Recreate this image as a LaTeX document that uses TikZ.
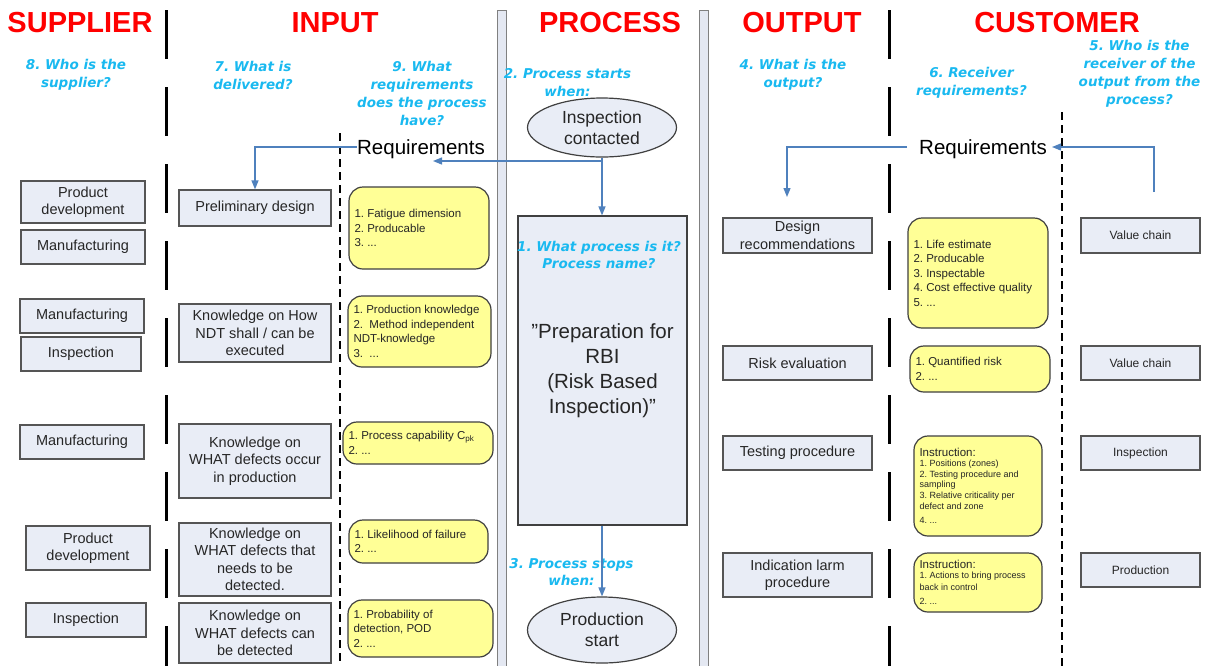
\documentclass[tikz,border=0pt]{standalone}
\usepackage{fontspec}
\setmainfont{Liberation Sans}
\newfontfamily\qfont{DejaVu Sans}
\usetikzlibrary{arrows.meta,shapes.geometric}
\definecolor{boxfill}{RGB}{233,237,246}
\definecolor{boxline}{RGB}{85,85,85}
\definecolor{yfill}{RGB}{255,255,150}
\definecolor{yline}{RGB}{64,64,64}
\definecolor{txt}{RGB}{38,38,38}
\definecolor{qblue}{RGB}{25,185,240}
\definecolor{hred}{RGB}{255,0,0}
\definecolor{ablue}{RGB}{79,129,189}
\definecolor{barfill}{RGB}{228,232,242}
\definecolor{barline}{RGB}{128,128,128}
\newcommand{\myfs}[2]{\fontsize{#1}{#2}\selectfont}
\frenchspacing
\tikzset{
  sbox/.style={draw=boxline, fill=boxfill, line width=1.3pt, inner sep=0pt, align=center, text=txt, font=\frenchspacing\myfs{14.5}{17.5}},
  cbox/.style={sbox, font=\myfs{12}{14}},
  ybox/.style={draw=yline, fill=yfill, line width=1.2pt, rounded corners=14pt, inner xsep=5.5pt, inner ysep=0pt, align=flush left, text=txt, font=\frenchspacing\myfs{11.5}{14.5}},
  ques/.style={text=qblue, align=center, inner sep=0pt, font=\qfont\bfseries\itshape\myfs{13.5}{18}},
  head/.style={text=hred, inner sep=0pt, font=\bfseries\myfs{29}{34}},
  reqtext/.style={text=black, inner sep=0pt, font=\myfs{20.5}{24}},
  ell/.style={ellipse, draw=yline, fill=boxfill, line width=1.2pt, inner sep=0pt, align=center, text=txt, font=\myfs{17.5}{21}},
  arr/.style={draw=ablue, line width=1.3pt, -{Triangle[length=9pt,width=7pt]}},
  septhick/.style={draw=black, line width=3pt, dash pattern=on 49pt off 28pt},
  septhin/.style={draw=black, line width=1.5pt, dash pattern=on 8pt off 5pt},
  bar/.style={draw=barline, fill=barfill, line width=1pt}
}
\begin{document}
\begin{tikzpicture}[x=1pt,y=-1pt]
\useasboundingbox[fill=white] (0,0) rectangle (1210,665);
% separators
\draw[septhick] (166,10) -- (166,668);
\draw[septhick] (889,10) -- (889,668);
\draw[septhin] (340,133) -- (340,668);
\draw[septhin] (1062,112) -- (1062,668);
\draw[bar] (497,10) rectangle (506,672);
\draw[bar] (699,10) rectangle (708,672);
% headings
\node[head] (hS) at (80,22.5) {SUPPLIER};
\node[head] (hI) at (335,22.5) {INPUT};
\node[head] (hP) at (610,22.5) {PROCESS};
\node[head] (hO) at (802,22.5) {OUTPUT};
\node[head] (hC) at (1057,22.5) {CUSTOMER};
% questions
\node[ques] (q8) at (76,75) {8. Who is the\\supplier?};
\node[ques] (q7) at (253,75) {7. What is\\delivered?};
\node[ques] (q9) at (422,93) {9. What\\requirements\\does the process\\have?};
\node[ques] (q2) at (567.5,83) {2. Process starts\\when:};
\node[ques] (q4) at (793,75) {4. What is the\\output?};
\node[ques] (q6) at (971.5,83) {6. Receiver\\requirements?};
\node[ques] (q5) at (1139.5,74) {5. Who is the\\receiver of the\\output from the\\process?};
% requirements labels
\node[reqtext] (reqL) at (421,149) {Requirements};
\node[reqtext] (reqR) at (983,149) {Requirements};
% supplier boxes
\node[sbox, minimum width=124pt, minimum height=42pt] (s1) at (83,202) {Product\\development};
\node[sbox, minimum width=124pt, minimum height=34pt] (s2) at (83,247) {Manufacturing};
\node[sbox, minimum width=124pt, minimum height=34pt] (s3) at (82,316) {Manufacturing};
\node[sbox, minimum width=120pt, minimum height=34pt] (s4) at (81,354) {Inspection};
\node[sbox, minimum width=124pt, minimum height=34pt] (s5) at (82,442) {Manufacturing};
\node[sbox, minimum width=124pt, minimum height=44pt] (s6) at (88,548) {Product\\development};
\node[sbox, minimum width=120pt, minimum height=34pt] (s7) at (86,620) {Inspection};
% input boxes
\node[sbox, minimum width=152pt, minimum height=36pt] (i1) at (255,208) {Preliminary design};
\node[sbox, minimum width=152pt, minimum height=58pt] (i2) at (255,333) {Knowledge on How\\NDT shall / can be\\executed};
\node[sbox, minimum width=152pt, minimum height=74pt] (i3) at (255,461) {Knowledge on\\WHAT defects occur\\in production};
\node[sbox, minimum width=152pt, minimum height=73pt] (i4) at (255,559.5) {Knowledge on\\WHAT defects that\\needs to be\\detected.};
\node[sbox, minimum width=152pt, minimum height=60pt] (i5) at (255,633) {Knowledge on\\WHAT defects can\\be detected};
% input requirements
\node[ybox, text width=129pt, minimum height=82pt] (rA) at (419,228) {1. Fatigue dimension\\2. Producable\\3. ...};
\node[ybox, text width=132pt, minimum height=71pt] (rB) at (419.5,331.5) {1. Production knowledge\\2.\ \ Method independent\\NDT-knowledge\\3.\ \ ...};
\node[ybox, text width=139pt, minimum height=42pt] (rC) at (418,443) {1. Process capability C\textsubscript{pk}\\2. ...};
\node[ybox, text width=128pt, minimum height=43pt] (rD) at (418.5,541.5) {1. Likelihood of failure\\2. ...};
\node[ybox, text width=134pt, minimum height=57pt] (rE) at (420.5,628.5) {1. Probability of\\detection, POD\\2. ...};
% process
\node[draw=yline, fill=boxfill, line width=1.2pt, minimum width=169pt, minimum height=309pt, inner sep=0pt, align=center, text=txt, font=\myfs{20.5}{25}] (proc) at (602.5,370.5) {”Preparation for\\RBI\\(Risk Based\\Inspection)”};
\node[ques, font=\qfont\bfseries\itshape\myfs{13.5}{16.5}] (q1) at (599,255) {1. What process is it?\\Process name?};
\node[ell, minimum width=149pt, minimum height=59pt] (e1) at (602,127.5) {Inspection\\contacted};
\node[ell, minimum width=149pt, minimum height=66pt] (e2) at (602,630) {Production\\start};
\node[ques, font=\qfont\bfseries\itshape\myfs{13.5}{17}] (q3) at (571.5,572) {3. Process stops\\when:};
% output boxes
\node[sbox, minimum width=149pt, minimum height=35pt] (o1) at (797.5,235.5) {Design\\recommendations};
\node[sbox, minimum width=149pt, minimum height=34pt] (o2) at (797.5,363) {Risk evaluation};
\node[sbox, minimum width=149pt, minimum height=34pt] (o3) at (797.5,453) {Testing procedure};
\node[sbox, minimum width=149pt, minimum height=44pt] (o4) at (797.5,575) {Indication larm\\procedure};
% customer requirements
\node[ybox, text width=129pt, minimum height=110pt] (rF) at (978,273) {1. Life estimate\\2. Producable\\3. Inspectable\\4. Cost effective quality\\5. ...};
\node[ybox, text width=129pt, minimum height=46pt] (rG) at (980,369) {1. Quantified risk\\2. ...};
\node[ybox, text width=117pt, minimum height=100pt] (rH) at (978,486) {Instruction:\\[-1pt]{\myfs{9}{10.7}1. Positions (zones)\\2. Testing procedure and\\sampling\\3. Relative criticality per\\defect and zone\\4. ...}};
\node[ybox, text width=117pt, minimum height=59pt] (rI) at (978,582.5) {Instruction:\\[-1pt]{\myfs{9}{11.5}1. Actions to bring process\\back in control\\2. ...}};
% customer boxes
\node[cbox, minimum width=119pt, minimum height=35pt] (c1) at (1140.5,235.5) {Value chain};
\node[cbox, minimum width=119pt, minimum height=34pt] (c2) at (1140.5,363) {Value chain};
\node[cbox, minimum width=119pt, minimum height=34pt] (c3) at (1140.5,453) {Inspection};
\node[cbox, minimum width=119pt, minimum height=34pt] (c4) at (1140.5,570) {Production};
% connectors
\coordinate (tipL) at (433,161);
\coordinate (tipR) at (787,197);
\coordinate (cst) at (1154,192);
\draw[arr] ([yshift=2pt]reqL.west) -| (i1.north);
\draw[arr] (e1.south |- tipL) -- (tipL);
\draw[arr] (e1.south) -- (e1.south |- proc.north);
\draw[arr] (e2.north |- proc.south) -- (e2.north);
\draw[arr] ([xshift=-12pt,yshift=2pt]reqR.west) -| (tipR);
\draw[arr] (cst) |- ([xshift=5pt,yshift=2pt]reqR.east);
\end{tikzpicture}
\end{document}
